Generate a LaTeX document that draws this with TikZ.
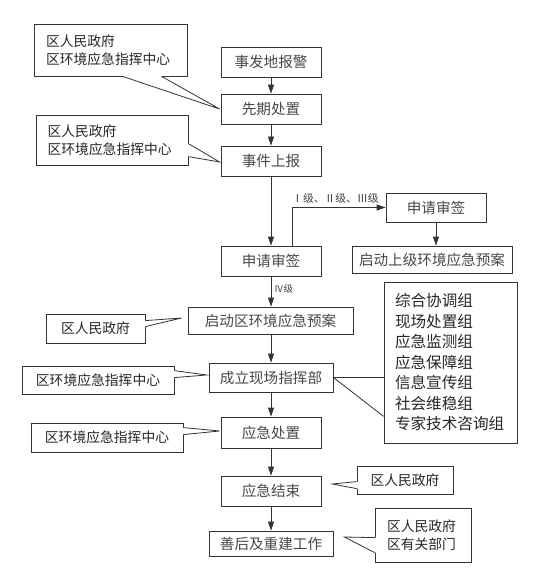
\documentclass[tikz,border=0pt]{standalone}
\usepackage{fontspec}
\newfontfamily\cjk{Noto Sans CJK SC}
\usetikzlibrary{arrows.meta,calc}
\newcommand\mytail[4]{%
  \fill[white] ($(#1)+#4$) -- (#1) -- (#3) -- (#2) -- ($(#2)+#4$) -- cycle;
  \draw[lineclr] (#1) -- (#3) -- (#2);}
\begin{document}
\begin{tikzpicture}[x=1pt,y=-1pt,
  lineclr/.style={draw=black!80,line width=0.8pt},
  mainbox/.style={draw=black!80,line width=0.8pt,inner sep=0pt,text=black!72,
    font=\cjk\fontsize{14.6}{17}\selectfont},
  callbox/.style={draw=black!80,line width=0.8pt,inner sep=0pt,text=black!85,
    font=\cjk\fontsize{13.8}{18}\selectfont},
  arr/.style={lineclr,-{Triangle[length=9pt,width=6pt]}},
  lvl/.style={inner sep=0pt,text=black!75,font=\cjk\fontsize{9.5}{11}\selectfont}]
\useasboundingbox (0,0) rectangle (548,577);
% main column
\node[mainbox,minimum width=100pt,minimum height=30pt] (n1) at (271,62) {事发地报警};
\node[mainbox,minimum width=100pt,minimum height=30pt] (n2) at (271,109) {先期处置};
\node[mainbox,minimum width=100pt,minimum height=30pt] (n3) at (271,161) {事件上报};
\node[mainbox,minimum width=100pt,minimum height=30pt] (n4) at (271,261) {申请审签};
\node[mainbox,minimum width=100pt,minimum height=29pt] (n5) at (436,207.5) {申请审签};
\node[mainbox,minimum width=160pt,minimum height=27pt] (n6) at (432,259.5) {启动上级环境应急预案};
\node[mainbox,minimum width=165pt,minimum height=27pt] (n7) at (270.5,320.5) {启动区环境应急预案};
\node[mainbox,minimum width=124pt,minimum height=29pt] (n8) at (271,377.5) {成立现场指挥部};
\node[mainbox,minimum width=100pt,minimum height=31pt] (n9) at (271,432.5) {应急处置};
\node[mainbox,minimum width=100pt,minimum height=30pt] (n10) at (271,491) {应急结束};
\node[mainbox,minimum width=124pt,minimum height=25pt] (n11) at (271,543.5) {善后及重建工作};
% groups
\node[callbox,font=\cjk\fontsize{15.6}{20.5}\selectfont,minimum width=133pt,minimum height=161pt,
  align=left,text width=111pt] (g) at (450.5,362.5)
  {综合协调组\\现场处置组\\应急监测组\\应急保障组\\信息宣传组\\社会维稳组\\专家技术咨询组};
% callouts
\node[callbox,minimum width=153pt,minimum height=52pt,align=left,text width=129pt] (c1) at (110.5,50)
  {区人民政府\\区环境应急指挥中心};
\node[callbox,minimum width=152pt,minimum height=50pt,align=left,text width=129pt] (c2) at (112,140)
  {区人民政府\\区环境应急指挥中心};
\node[callbox,minimum width=99pt,minimum height=29pt] (c3) at (95.5,328.5) {区人民政府};
\node[callbox,minimum width=152pt,minimum height=28pt] (c4) at (98,380) {区环境应急指挥中心};
\node[callbox,minimum width=152pt,minimum height=29pt] (c5) at (107,437.5) {区环境应急指挥中心};
\node[callbox,minimum width=96pt,minimum height=28pt] (c6) at (405,480) {区人民政府};
\node[callbox,minimum width=96pt,minimum height=54pt,align=left,text width=72pt] (c7) at (423,535)
  {区人民政府\\区有关部门};
% callout tails
\mytail{$(c1.south west)+(89,0)$}{$(c1.south west)+(128,0)$}{$(n2.west)+(-1,0)$}{(0,-1.3)}
\mytail{$(c2.north east)+(0,29)$}{$(c2.north east)+(0,42)$}{$(n3.west)+(-1,1)$}{(-1.3,0)}
\mytail{$(c3.north east)+(0,7)$}{$(c3.north east)+(0,13)$}{$(n7.west)+(-6,-2.5)$}{(-1.3,0)}
\mytail{$(c4.north east)+(0,5)$}{$(c4.north east)+(0,12)$}{$(n8.west)+(-2,-2.5)$}{(-1.3,0)}
\mytail{$(c5.north east)+(0,5)$}{$(c5.north east)+(0,12)$}{$(n9.west)+(-1,-1.5)$}{(-1.3,0)}
\mytail{$(c6.north west)+(0,16)$}{$(c6.north west)+(0,23)$}{$(n10.east)+(11,-7)$}{(1.3,0)}
\mytail{$(c7.north west)+(0,30)$}{$(c7.north west)+(0,45)$}{$(n11.east)+(11,-6.5)$}{(1.3,0)}
% connectors
\draw[arr] (n1) -- (n2);
\draw[arr] (n2) -- (n3);
\draw[arr] (n3) -- (n4);
\draw[arr] ([xshift=21pt]n4.north) |- (n5.west);
\node[lvl,font=\cjk\fontsize{10.8}{12}\selectfont,anchor=south west] (l1) at (292,203.5) {Ⅰ级、Ⅱ级、Ⅲ级};
\draw[arr] (n5.south) -- (n5.south |- n6.north);
\draw[arr] (n4) -- (n4.south |- n7.north);
\node[lvl,anchor=west] (l2) at (274,288.5) {Ⅳ级};
\draw[arr] (n7.south -| n8.north) -- (n8);
\draw[arr] (n8) -- (n9);
\draw[arr] (n9) -- (n10);
\draw[arr] (n10) -- (n11);
\draw[lineclr] (n8.east) -- (n8.east -| g.west);
\draw[lineclr] (n8.east) -- ([yshift=27pt]g.south west);
\end{tikzpicture}
\end{document}
